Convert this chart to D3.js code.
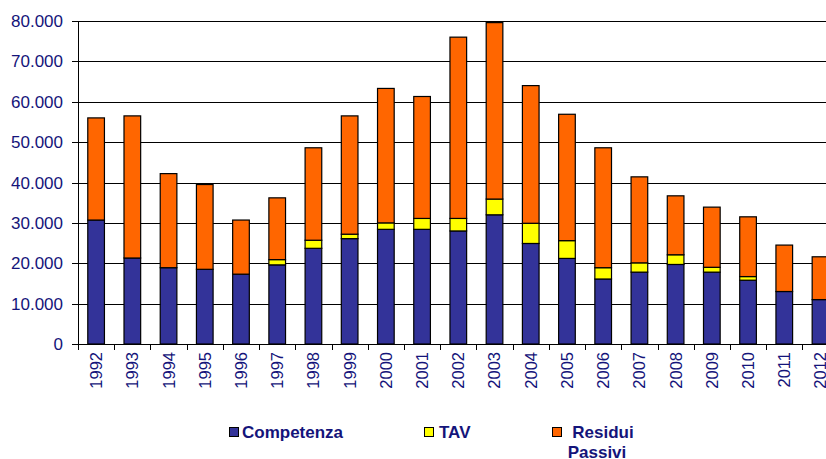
<!DOCTYPE html>
<html><head><meta charset="utf-8">
<script src="https://cdn.jsdelivr.net/npm/d3@7"></script>
<style>html,body{margin:0;padding:0;background:#fff;overflow:hidden}svg{display:block}</style>
</head><body>
<svg id="c" width="826" height="459"></svg>
<script>
const years = ["1992","1993","1994","1995","1996","1997","1998","1999","2000","2001","2002","2003","2004","2005","2006","2007","2008","2009","2010","2011","2012"];
const competenza = [30700,21300,18900,18500,17300,19600,23700,26100,28400,28400,28000,32000,24900,21200,16100,17800,19700,17800,15800,13000,11000];
const tav        = [0,0,0,0,0,1300,2000,1100,1600,2700,3100,3900,5000,4400,2800,2300,2400,1200,900,0,0];
const residui    = [25300,35200,23300,21000,13400,15300,22900,29300,33300,30200,44900,43700,34100,31300,29700,21300,14600,14900,14800,11500,10600];
const yTicks = [0,10000,20000,30000,40000,50000,60000,70000,80000];
const seriesNames = ["Competenza","TAV","Residui Passivi"];
const colors = ["#333399","#FFFF00","#FF6600"];

const svg = d3.select("#c");
const pLeft = 78, pRight = 838.6, pTop = 21, pBottom = 344;
const navy = "#14147a";
const font = "'Liberation Sans', Arial, sans-serif";

const x = d3.scaleBand().domain(years).range([pLeft, pRight]).paddingInner(0.54).paddingOuter(0.27);
const xCat = d3.scaleBand().domain(years).range([pLeft, pRight]).padding(0);
const y = d3.scaleLinear().domain([0, 80000]).range([pBottom, pTop]);
const loc = d3.formatLocale({decimal: ",", thousands: ".", grouping: [3], currency: ["", ""]});
const fmt = loc.format(",");

// gridlines
svg.append("g").selectAll("line").data(yTicks.filter(d => d > 0)).join("line")
  .attr("x1", pLeft).attr("x2", 826)
  .attr("y1", d => Math.round(y(d)) + 0.5).attr("y2", d => Math.round(y(d)) + 0.5)
  .attr("stroke", "#000").attr("stroke-width", 1);

// stacked bars
const table = years.map((yr, i) => ({year: yr, c: competenza[i], t: tav[i], r: residui[i]}));
const stack = d3.stack().keys(["c", "t", "r"])(table);
const g = svg.append("g");
stack.forEach((layer, li) => {
  g.append("g").selectAll("rect").data(layer).join("rect")
    .attr("x", d => x(d.data.year))
    .attr("width", x.bandwidth())
    .attr("y", d => y(d[1]))
    .attr("height", d => Math.max(0, y(d[0]) - y(d[1])))
    .attr("fill", colors[li])
    .attr("stroke", "#000").attr("stroke-width", 1.2)
    .style("display", d => (d[1] - d[0]) > 0 ? null : "none");
});

// y axis
const ax = svg.append("g").attr("font-family", font);
ax.append("line").attr("x1", pLeft + 0.5).attr("x2", pLeft + 0.5).attr("y1", pTop).attr("y2", pBottom + 6).attr("stroke", "#000");
ax.append("line").attr("x1", pLeft - 6).attr("x2", 826).attr("y1", pBottom + 0.5).attr("y2", pBottom + 0.5).attr("stroke", "#000");
ax.selectAll(".yt").data(yTicks).join("line")
  .attr("x1", pLeft - 6).attr("x2", pLeft)
  .attr("y1", d => Math.round(y(d)) + 0.5).attr("y2", d => Math.round(y(d)) + 0.5)
  .attr("stroke", "#000");
ax.selectAll(".yl").data(yTicks).join("text")
  .attr("x", 63).attr("y", d => y(d)).attr("dy", "0.36em")
  .attr("text-anchor", "end").attr("font-size", 17).attr("fill", navy)
  .text(d => fmt(d));

// x ticks at category boundaries
ax.selectAll(".xt").data(years.slice(1)).join("line")
  .attr("x1", d => Math.round(xCat(d)) + 0.5).attr("x2", d => Math.round(xCat(d)) + 0.5)
  .attr("y1", pBottom).attr("y2", pBottom + 6).attr("stroke", "#000");
ax.selectAll(".xl").data(years).join("text")
  .attr("transform", d => `translate(${x(d) + x.bandwidth() / 2},352) rotate(-90)`)
  .attr("dy", "0.36em").attr("text-anchor", "end")
  .attr("font-size", 16.5).attr("fill", navy)
  .text(d => d);

// legend
const leg = svg.append("g").attr("font-family", font).attr("font-weight", "bold").attr("font-size", 17).attr("fill", navy);
const legPos = [{sx: 229, tx: 242}, {sx: 424, tx: 439}, {sx: 552, tx: 603}];
seriesNames.forEach((n, i) => {
  leg.append("rect").attr("x", legPos[i].sx + 0.5).attr("y", 427.5).attr("width", 9).attr("height", 9)
    .attr("fill", colors[i]).attr("stroke", "#000").attr("stroke-width", 1);
});
leg.append("text").attr("x", legPos[0].tx).attr("y", 438).text(seriesNames[0]);
leg.append("text").attr("x", legPos[1].tx).attr("y", 438).text(seriesNames[1]);
const words = seriesNames[2].split(" ");
leg.append("text").attr("x", legPos[2].tx).attr("y", 438).attr("text-anchor", "middle").text(words[0]);
leg.append("text").attr("x", 597).attr("y", 458).attr("text-anchor", "middle").text(words[1]);
</script>
</body></html>
